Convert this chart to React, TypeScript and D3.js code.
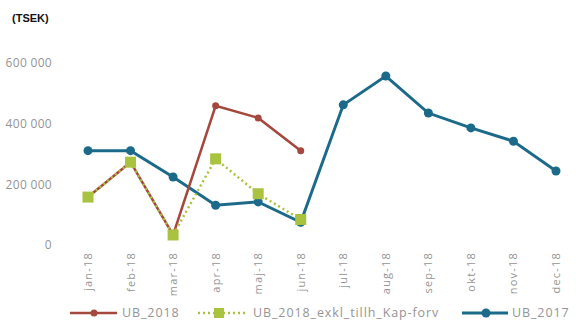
import React from "react";
import * as d3 from "d3";

const months = ["jan-18","feb-18","mar-18","apr-18","maj-18","jun-18","jul-18","aug-18","sep-18","okt-18","nov-18","dec-18"];
const ub2017 = [311000,311000,224000,131000,142000,75000,462000,557000,435000,386000,342000,244000];
const ub2018 = [158000,273000,33000,459000,419000,311000];
const ub2018Exkl = [158000,273000,33000,284000,169000,84000];
const yTicks = [0,200000,400000,600000];

const W = 576, H = 324;
const C2017 = "#1b6a8a";
const C2018 = "#a4473d";
const CEXKL = "#a9c23f";
const GRAY = "#959595";

export default function App() {
  const x = d3.scalePoint<string>().domain(months).range([88, 556]);
  const y = d3.scaleLinear().domain([0, 600000]).range([245, 63]);
  const line = d3.line<number>().x((_, i) => x(months[i])!).y(d => y(d));
  const fmt = (v: number) => d3.format(",")(v).replace(/,/g, " ");
  const font = "'Open Sans', sans-serif";
  return (
    <svg width={W} height={H} style={{ position: "absolute", left: 0, top: 0, background: "#fff" }}>
      <text x={12} y={22} fontFamily="Liberation Sans, Arial, sans-serif" fontSize={11} fontWeight="bold" fill="#111">(TSEK)</text>
      {yTicks.map(t => (
        <text key={t} x={52} y={y(t)} dy="0.35em" textAnchor="end" fontFamily={font} fontSize={12} letterSpacing={0.3} fill={GRAY}>{fmt(t)}</text>
      ))}
      {months.map(m => (
        <text key={m} transform={`translate(${x(m)! + 4},252) rotate(-90)`} textAnchor="end" fontFamily={font} fontSize={11} letterSpacing={1.2} fill={GRAY}>{m}</text>
      ))}
      <path d={line(ub2017)!} fill="none" stroke={C2017} strokeWidth={3} />
      {ub2017.map((v, i) => (
        <circle key={i} cx={x(months[i])!} cy={y(v)} r={4.5} fill={C2017} />
      ))}
      <path d={line(ub2018)!} fill="none" stroke={C2018} strokeWidth={2.5} />
      {ub2018.map((v, i) => (
        <circle key={i} cx={x(months[i])!} cy={y(v)} r={3.5} fill={C2018} />
      ))}
      <path d={line(ub2018Exkl)!} fill="none" stroke={CEXKL} strokeWidth={2.5} strokeDasharray="2 3" />
      {ub2018Exkl.map((v, i) => (
        <rect key={i} x={x(months[i])! - 5.5} y={y(v) - 5.5} width={11} height={11} fill={CEXKL} />
      ))}
      <g fontFamily={font} fontSize={12.5} letterSpacing={0.9} fill={GRAY}>
        <line x1={70} x2={117} y1={313} y2={313} stroke={C2018} strokeWidth={2.5} />
        <circle cx={94} cy={313} r={3.5} fill={C2018} />
        <text x={122} y={313} dy="0.35em">UB_2018</text>
        <line x1={198} x2={246} y1={313} y2={313} stroke={CEXKL} strokeWidth={2.5} strokeDasharray="2 3" />
        <rect x={214} y={308} width={10} height={10} fill={CEXKL} />
        <text x={253} y={313} dy="0.35em">UB_2018_exkl_tillh_Kap-forv</text>
        <line x1={462} x2={508} y1={313} y2={313} stroke={C2017} strokeWidth={3} />
        <circle cx={486} cy={313} r={4.5} fill={C2017} />
        <text x={512} y={313} dy="0.35em">UB_2017</text>
      </g>
    </svg>
  );
}
